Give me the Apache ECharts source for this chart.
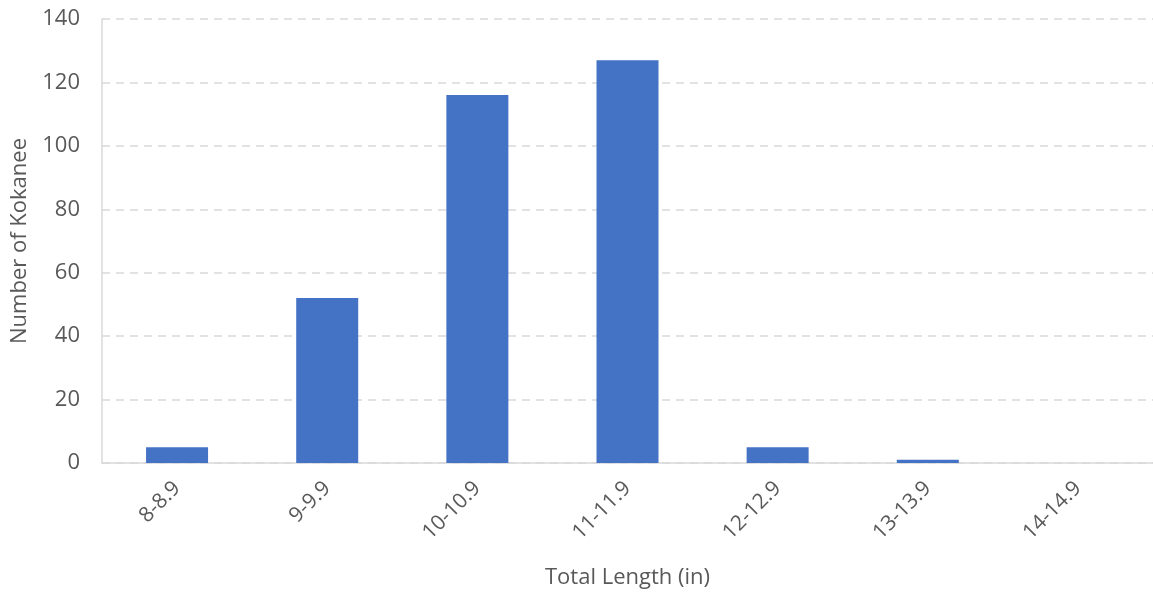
<!DOCTYPE html>
<html>
<head>
<meta charset="utf-8">
<script src="https://cdn.jsdelivr.net/npm/echarts@6/dist/echarts.min.js"></script>
<style>
  html, body { margin: 0; padding: 0; background: #fff; }
  #chart { width: 1153px; height: 594px; }
</style>
</head>
<body>
<div id="chart"></div>
<script>
// Length classes of sampled kokanee and counts per class
const lengthClasses = ['8-8.9', '9-9.9', '10-10.9', '11-11.9', '12-12.9', '13-13.9', '14-14.9'];
const fishCounts = [5, 52, 116, 127, 5, 1, 0];
const yTicks = { min: 0, max: 140, interval: 20 };

const textColor = '#595959';
const gridColor = '#d9d9d9';
const fontFamily = '"Open Sans", "Liberation Sans", sans-serif';

const chart = echarts.init(document.getElementById('chart'));
chart.setOption({
  animation: false,
  backgroundColor: '#ffffff',
  grid: {
    left: 102, right: 0, top: 19, bottom: 131,
    containLabel: false, outerBoundsMode: 'none'
  },
  xAxis: {
    type: 'category',
    data: lengthClasses,
    name: 'Total Length (in)',
    nameLocation: 'middle',
    nameGap: 104,
    nameTextStyle: { color: textColor, fontSize: 22, fontFamily: fontFamily },
    axisLine: { show: true, lineStyle: { color: gridColor, width: 1.5 } },
    axisTick: { show: false },
    axisLabel: {
      color: textColor, fontSize: 21, fontFamily: fontFamily,
      rotate: 45, margin: 22, interval: 0
    },
    splitLine: { show: false }
  },
  yAxis: {
    type: 'value',
    min: yTicks.min,
    max: yTicks.max,
    interval: yTicks.interval,
    name: 'Number of Kokanee',
    nameLocation: 'middle',
    nameGap: 71,
    nameTextStyle: { color: textColor, fontSize: 22, fontFamily: fontFamily },
    axisLine: { show: true, lineStyle: { color: gridColor, width: 1.5 } },
    axisTick: { show: false },
    axisLabel: { color: textColor, fontSize: 22, fontFamily: fontFamily, margin: 22 },
    splitLine: { show: true, lineStyle: { color: gridColor, width: 1.5, type: [8, 6] } }
  },
  series: [{
    type: 'bar',
    data: fishCounts,
    barWidth: 62,
    itemStyle: { color: '#4472C4' }
  }]
});
</script>
</body>
</html>
